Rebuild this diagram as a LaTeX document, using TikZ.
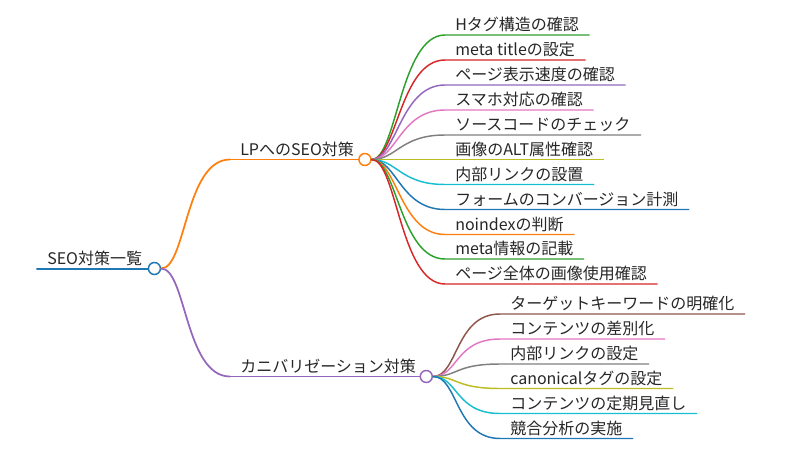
\documentclass[tikz,border=0pt]{standalone}
\usepackage{fontspec}
\setmainfont{Noto Sans CJK JP}
\usetikzlibrary{positioning}

\definecolor{mmblue}{HTML}{1F77B4}
\definecolor{mmorange}{HTML}{FF7F0E}
\definecolor{mmgreen}{HTML}{2CA02C}
\definecolor{mmred}{HTML}{D62728}
\definecolor{mmpurple}{HTML}{9467BD}
\definecolor{mmbrown}{HTML}{8C564B}
\definecolor{mmpink}{HTML}{E377C2}
\definecolor{mmgray}{HTML}{7F7F7F}
\definecolor{mmolive}{HTML}{BCBD22}
\definecolor{mmcyan}{HTML}{17BECF}

\tikzset{
  topic/.style = {anchor=south west, inner xsep=7.5pt, inner ysep=0pt,
                  text height=10pt, text depth=3pt,
                  font=\fontsize{12}{14}\selectfont, text=black!85},
  dot/.style   = {circle, draw, fill=white, inner sep=0pt, minimum size=9pt,
                  line width=1.1pt, anchor=west},
  trunk/.style = {line width=1.5pt, line cap=round},
  branch/.style = {line width=1.3pt, line cap=round},
  leaf/.style  = {line width=1.1pt, line cap=round}
}

\begin{document}
\begin{tikzpicture}[x=0.75pt, y=-0.75pt]
\useasboundingbox (0,0) rectangle (800,468);

% main topics
\node (root) [topic] at (37,268.5) {SEO対策一覧};
\node (lp)   [topic] at (230,159.5) {LPへのSEO対策};
\node (kn)   [topic] at (230,376.5) {カニバリゼーション対策};

% LP leaves
\node (lpa) [topic] at (445,35)    {Hタグ構造の確認};
\node (lpb) [topic] at (445,60)    {meta titleの設定};
\node (lpc) [topic] at (445,85)    {ページ表示速度の確認};
\node (lpd) [topic] at (445,110)   {スマホ対応の確認};
\node (lpe) [topic] at (445,135)   {ソースコードのチェック};
\node (lpf) [topic] at (445,159.5) {画像のALT属性確認};
\node (lpg) [topic] at (445,184.5) {内部リンクの設置};
\node (lph) [topic] at (445,209.5) {フォームのコンバージョン計測};
\node (lpi) [topic] at (445,234.5) {noindexの判断};
\node (lpj) [topic] at (445,259)   {meta情報の記載};
\node (lpk) [topic] at (445,284)   {ページ全体の画像使用確認};

% cannibalization leaves
\node (kna) [topic] at (500,314)   {ターゲットキーワードの明確化};
\node (knb) [topic] at (500,339)   {コンテンツの差別化};
\node (knc) [topic] at (500,364)   {内部リンクの設定};
\node (knd) [topic] at (500,388.5) {canonicalタグの設定};
\node (kne) [topic] at (500,413.5) {コンテンツの定期見直し};
\node (knf) [topic] at (500,438.5) {競合分析の実施};

% end circles of main topics
\node (rootdot) [dot, draw=mmblue]   at ([xshift=-3.5pt]root.south east) {};
\node (lpdot)   [dot, draw=mmorange] at ([xshift=-4.5pt]lp.south east) {};
\node (kndot)   [dot, draw=mmpurple] at ([xshift=-5pt]kn.south east) {};

% underlines of main topics
\draw [trunk, mmblue]    (root.south west) -- (rootdot.west);
\draw [branch, mmorange] (lp.south west) -- (lpdot.west);
\draw [branch, mmpurple] (kn.south west) -- (kndot.west);

% links from the root
\draw [branch, mmorange] (rootdot.east) .. controls +(25,0) and +(-45,0) .. (lp.south west);
\draw [branch, mmpurple] (rootdot.east) .. controls +(25,0) and +(-45,0) .. (kn.south west);

% links to LP leaves
\draw [leaf, mmgreen]  (lpdot.east) .. controls +(25,0) and +(-45,0) .. (lpa.south west) -- (lpa.south east);
\draw [leaf, mmred]    (lpdot.east) .. controls +(25,0) and +(-45,0) .. (lpb.south west) -- (lpb.south east);
\draw [leaf, mmpurple] (lpdot.east) .. controls +(25,0) and +(-45,0) .. (lpc.south west) -- (lpc.south east);
\draw [leaf, mmpink]   (lpdot.east) .. controls +(25,0) and +(-45,0) .. (lpd.south west) -- (lpd.south east);
\draw [leaf, mmgray]   (lpdot.east) .. controls +(25,0) and +(-45,0) .. (lpe.south west) -- (lpe.south east);
\draw [leaf, mmolive]  (lpdot.east) .. controls +(25,0) and +(-45,0) .. (lpf.south west) -- (lpf.south east);
\draw [leaf, mmcyan]   (lpdot.east) .. controls +(25,0) and +(-45,0) .. (lpg.south west) -- (lpg.south east);
\draw [leaf, mmblue]   (lpdot.east) .. controls +(25,0) and +(-45,0) .. (lph.south west) -- (lph.south east);
\draw [leaf, mmorange] (lpdot.east) .. controls +(25,0) and +(-45,0) .. (lpi.south west) -- (lpi.south east);
\draw [leaf, mmgreen]  (lpdot.east) .. controls +(25,0) and +(-45,0) .. (lpj.south west) -- (lpj.south east);
\draw [leaf, mmred]    (lpdot.east) .. controls +(25,0) and +(-45,0) .. (lpk.south west) -- (lpk.south east);

% links to cannibalization leaves
\draw [leaf, mmbrown]  (kndot.east) .. controls +(25,0) and +(-45,0) .. (kna.south west) -- (kna.south east);
\draw [leaf, mmpink]   (kndot.east) .. controls +(25,0) and +(-45,0) .. (knb.south west) -- (knb.south east);
\draw [leaf, mmgray]   (kndot.east) .. controls +(25,0) and +(-45,0) .. (knc.south west) -- (knc.south east);
\draw [leaf, mmolive]  (kndot.east) .. controls +(25,0) and +(-45,0) .. (knd.south west) -- (knd.south east);
\draw [leaf, mmcyan]   (kndot.east) .. controls +(25,0) and +(-45,0) .. (kne.south west) -- (kne.south east);
\draw [leaf, mmblue]   (kndot.east) .. controls +(25,0) and +(-45,0) .. (knf.south west) -- (knf.south east);
\end{tikzpicture}
\end{document}
